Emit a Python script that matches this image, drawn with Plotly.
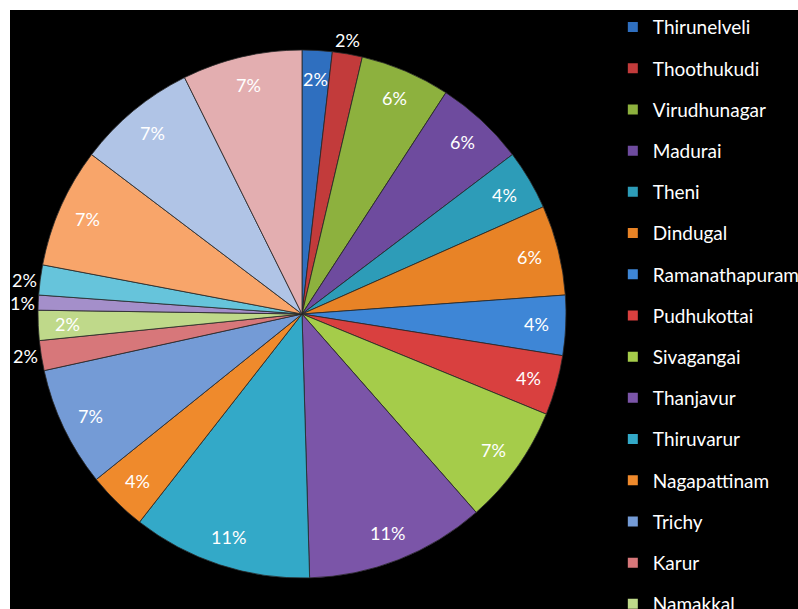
import math
import plotly.graph_objects as go

# Counts per district, in drawing order starting at 12 o'clock, clockwise
districts = [
    "Thirunelveli", "Thoothukudi", "Virudhunagar", "Madurai", "Theni",
    "Dindugal", "Ramanathapuram", "Pudhukottai", "Sivagangai", "Thanjavur",
    "Thiruvarur", "Nagapattinam", "Trichy", "Karur", "Namakkal",
    "Perambalur", "Ariyalur", "Salem", "Erode", "Coimbatore",
]
counts = [2, 2, 6, 6, 4, 6, 4, 4, 8, 12, 12, 4, 8, 2, 2, 1, 2, 8, 8, 8]

colors = [
    "#2F6FBF", "#C23B3B", "#8DB13E", "#6E4B9E", "#2D9CB8", "#E88326",
    "#3E86D6", "#D9403F", "#A5CC4A", "#7B55A8", "#33A9C8", "#EF8A2C",
    "#749BD6", "#D7777A", "#BFD98A", "#A48FCA", "#66C4DB", "#F8A56A",
    "#B0C4E6", "#E3AEB0",
]

# small slices whose labels sit just outside the rim
outside = {"Thoothukudi", "Karur", "Perambalur", "Ariyalur"}

# figure / plot-area geometry (pixels)
W, H = 798, 609
ML, MT = 10, 10
PW, PH = W - ML, H - MT
CX, CY, R = 302 - ML, H - 314, 264          # pie centre (from plot-area left / bottom) and radius

dom_x = [(CX - R) / PW, (CX + R) / PW]
dom_y = [(CY - R) / PH, (CY + R) / PH]

fig = go.Figure()

fig.add_trace(go.Pie(
    labels=districts,
    values=counts,
    sort=False,
    direction="clockwise",
    rotation=0,
    marker=dict(colors=colors, line=dict(color="rgba(40,40,40,0.8)", width=1)),
    textinfo="none",
    showlegend=False,
    hoverinfo="label+value+percent",
    domain=dict(x=dom_x, y=dom_y),
))

# percentage labels: inside near the rim, or just beyond it for thin slices
total = sum(counts)
cum = 0.0
for name, v in zip(districts, counts):
    theta = 2 * math.pi * (cum + v / 2) / total
    cum += v
    s, c = math.sin(theta), math.cos(theta)
    if name in outside:
        rr = R + 1
        xa = "right" if s < -0.3 else ("left" if s > 0.3 else "center")
        ya = "bottom" if c > 0.3 else ("top" if c < -0.3 else "middle")
    else:
        rr = 0.89 * R
        xa, ya = "center", "middle"
    fig.add_annotation(
        x=(CX + rr * s) / PW, y=(CY + rr * c) / PH,
        xref="paper", yref="paper",
        text=f"{round(100 * v / total)}%",
        showarrow=False,
        xanchor=xa, yanchor=ya,
        font=dict(family="Lato", size=18, color="white"),
    )

# legend entries, one group per district so the rows can be spaced out
for name, col in zip(districts, colors):
    fig.add_trace(go.Scatter(
        x=[None], y=[None],
        mode="markers",
        marker=dict(symbol="square", size=10, color=col),
        name=name,
        legendgroup=name,
        hoverinfo="skip",
    ))

fig.update_layout(
    width=W,
    height=H,
    margin=dict(l=ML, r=0, t=MT, b=0, autoexpand=False),
    paper_bgcolor="white",
    plot_bgcolor="black",
    xaxis=dict(visible=False, range=[0, 1]),
    yaxis=dict(visible=False, range=[0, 1]),
    showlegend=True,
    legend=dict(
        x=0.765, xanchor="left",
        y=1.003, yanchor="top",
        font=dict(family="Lato", size=19, color="white"),
        bgcolor="rgba(0,0,0,0)",
        tracegroupgap=13.5,
        maxheight=1200,
        itemclick=False,
    ),
)

fig.write_html("out.html")
